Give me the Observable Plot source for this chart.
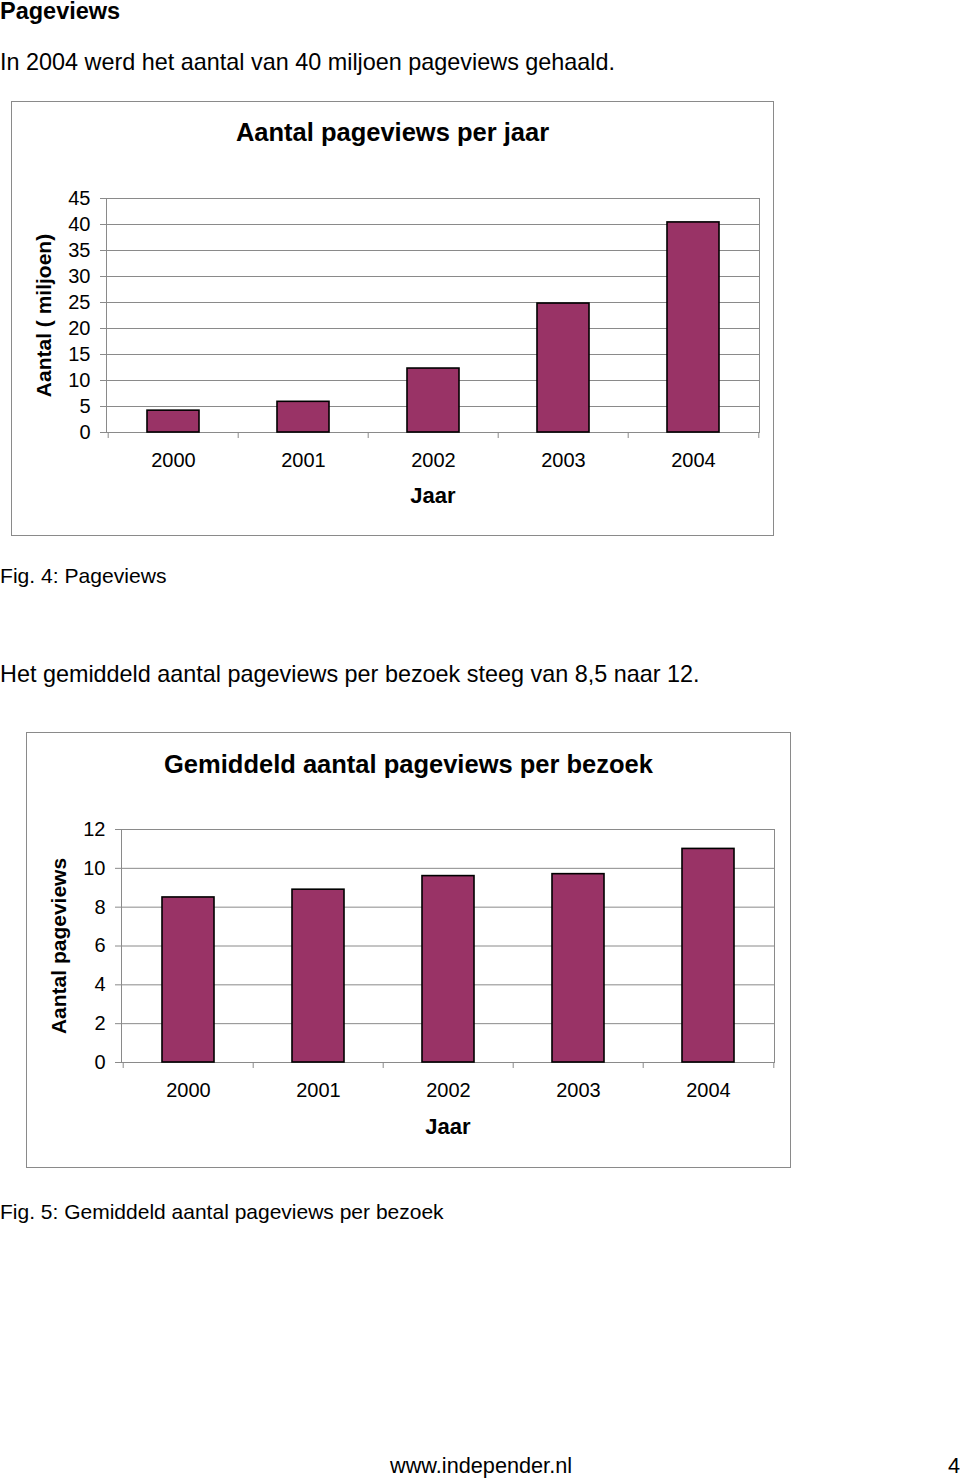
<!DOCTYPE html>
<html>
<head>
<meta charset="utf-8">
<script src="https://cdn.jsdelivr.net/npm/d3@7"></script>
<script src="https://cdn.jsdelivr.net/npm/@observablehq/plot@0.6"></script>
<style>
  html, body { margin: 0; padding: 0; background: #fff; }
  body { width: 960px; height: 1479px; position: relative; overflow: hidden; font-family: "Liberation Sans", Arial, sans-serif; color: #000; }
  .t { position: absolute; white-space: nowrap; line-height: 1; }
  .box { position: absolute; border: 1px solid #8a8a8a; box-sizing: border-box; background: #fff; }
  .ctitle { position: absolute; left: 0; right: 0; text-align: center; font-weight: bold; font-size: 25.5px; line-height: 1; }
  .plot { position: absolute; left: 0; }
</style>
</head>
<body>
<div class="t" style="left:0;top:0;font-size:23.5px;font-weight:bold;">Pageviews</div>
<div class="t" style="left:0;top:51px;font-size:23.4px;">In 2004 werd het aantal van 40 miljoen pageviews gehaald.</div>

<div class="box" id="box1" style="left:11px;top:101px;width:763px;height:435px;">
  <div class="ctitle" style="top:18px;">Aantal pageviews per jaar</div>
  <div class="plot" id="chart1" style="top:78px;"></div>
</div>

<div class="t" style="left:0;top:565px;font-size:21.1px;">Fig. 4: Pageviews</div>
<div class="t" style="left:0;top:663px;font-size:23.4px;">Het gemiddeld aantal pageviews per bezoek steeg van 8,5 naar 12.</div>

<div class="box" id="box2" style="left:26px;top:732px;width:765px;height:436px;">
  <div class="ctitle" style="top:19px;">Gemiddeld aantal pageviews per bezoek</div>
  <div class="plot" id="chart2" style="top:78px;"></div>
</div>

<div class="t" style="left:0;top:1201px;font-size:21px;">Fig. 5: Gemiddeld aantal pageviews per bezoek</div>
<div class="t" style="left:390px;top:1455px;font-size:21.7px;">www.independer.nl</div>
<div class="t" style="left:948px;top:1455px;font-size:21.7px;">4</div>

<script>
// ---- data ----
const years = ["2000", "2001", "2002", "2003", "2004"];
const pageviewsMillions = [4.2, 5.9, 12.3, 24.8, 40.4];
const pageviewsPerVisit = [8.5, 8.9, 9.6, 9.7, 11.0];
const yTicks1 = [0, 5, 10, 15, 20, 25, 30, 35, 40, 45];
const yTicks2 = [0, 2, 4, 6, 8, 10, 12];

const BAR = "#993366";
const GRID = "#8a8a8a";
const FONT = "'Liberation Sans', Arial, sans-serif";

function makeChart({values, yDomain, yTicks, yLabel, width, height, margins, xLabelOffset}) {
  const data = years.map((y, i) => ({year: y, value: values[i]}));
  const plotW = width - margins.left - margins.right;
  const half = plotW / years.length / 2;
  return Plot.plot({
    width, height,
    marginLeft: margins.left, marginRight: margins.right,
    marginTop: margins.top, marginBottom: margins.bottom,
    style: {fontFamily: FONT, fontSize: "20px", color: "#000", background: "transparent", overflow: "visible"},
    x: {domain: years, paddingInner: 0.6, paddingOuter: 0.3, align: 0.5},
    y: {domain: yDomain},
    marks: [
      Plot.gridY(yTicks, {stroke: GRID, strokeOpacity: 1, strokeWidth: 1}),
      Plot.frame({stroke: GRID, strokeWidth: 1}),
      Plot.barY(data, {x: "year", y: "value", fill: BAR, stroke: "#000", strokeWidth: 1.6}),
      Plot.axisY({ticks: yTicks, tickSize: 6, tickPadding: 10, stroke: GRID,
        label: yLabel, labelAnchor: "center", labelOffset: 70, labelArrow: "none"}),
      Plot.axisX({tickSize: 0, tickPadding: 20, label: "Jaar", labelAnchor: "center", labelOffset: xLabelOffset, labelArrow: "none"}),
      Plot.axisX({tickSize: 6, stroke: GRID, tickFormat: () => "", label: null, dx: -half}),
      Plot.axisX({ticks: ["2004"], tickSize: 6, stroke: GRID, tickFormat: () => "", label: null, dx: half})
    ]
  });
}

const c1 = makeChart({
  values: pageviewsMillions, yDomain: [0, 45], yTicks: yTicks1, yLabel: "Aantal ( miljoen)",
  width: 761, height: 356, margins: {left: 94, right: 14, top: 18, bottom: 104}, xLabelOffset: 70
});
const c2 = makeChart({
  values: pageviewsPerVisit, yDomain: [0, 12], yTicks: yTicks2, yLabel: "Aantal pageviews",
  width: 763, height: 357, margins: {left: 94, right: 16, top: 18, bottom: 106}, xLabelOffset: 71
});
document.getElementById("chart1").appendChild(c1);
document.getElementById("chart2").appendChild(c2);

// bold, slightly larger axis titles
for (const svg of [c1, c2]) {
  svg.querySelectorAll("g[aria-label='y-axis label'], g[aria-label='x-axis label']").forEach(g => {
    g.setAttribute("font-weight", "bold");
    g.setAttribute("font-size", g.getAttribute("aria-label").startsWith("y") ? "21px" : "22px");
  });
}
</script>
</body>
</html>
